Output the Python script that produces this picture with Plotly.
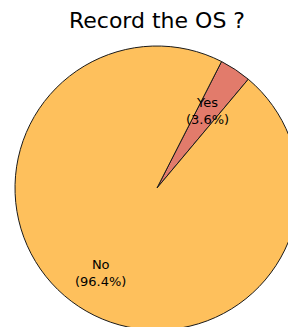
import math
import plotly.graph_objects as go

# Data
labels = ["Yes", "No"]
values = [3.6, 96.4]
colors = ["#E27B6B", "#FEC05C"]

# Style / layout constants
W, H = 314, 330
M_L, M_R, M_T, M_B = 15, 15, 46, 0
START_DEG = 40           # clockwise from 12 o'clock: upper edge of first slice
LABEL_DIST = {"Yes": 0.65, "No": 0.72}
FONT = "DejaVu Sans"

total = sum(values)
first_span = 360 * values[0] / total

fig = go.Figure(go.Pie(
    labels=labels,
    values=values,
    sort=False,
    direction="counterclockwise",
    rotation=START_DEG - first_span,
    marker=dict(colors=colors, line=dict(color="#1a1a1a", width=1)),
    textinfo="none",
    hoverinfo="label+percent",
    showlegend=False,
))

# label annotations placed at the middle angle of each slice
ang = 90 - START_DEG  # math angle (ccw from 3 o'clock)
for lab, v in zip(labels, values):
    span = 360 * v / total
    mid = math.radians(ang + span / 2)
    d = LABEL_DIST[lab]
    fig.add_annotation(
        x=0.5 + 0.5 * d * math.cos(mid),
        y=0.5 + 0.5 * d * math.sin(mid),
        xref="paper", yref="paper",
        text=f"{lab}<br>({v / total * 100:.1f}%)",
        showarrow=False,
        font=dict(family=FONT, size=13, color="#000000"),
        xanchor="center", yanchor="middle",
    )
    ang += span

fig.update_layout(
    width=W, height=H,
    margin=dict(l=M_L, r=M_R, t=M_T, b=M_B, pad=0),
    paper_bgcolor="white",
    plot_bgcolor="white",
    title=dict(
        text="Record the OS ?",
        x=0.5, xref="container", xanchor="center",
        y=1 - 20 / H, yref="container", yanchor="middle",
        font=dict(family=FONT, size=22, color="#000000"),
    ),
)

# the reference figure is cropped by its frame: no page margin, no scrollbars
fig.write_html(
    "out.html",
    config={"displayModeBar": False},
    post_script=(
        "document.body.style.margin='0';"
        "document.documentElement.style.overflow='hidden';"
        "document.body.style.overflow='hidden';"
    ),
)
